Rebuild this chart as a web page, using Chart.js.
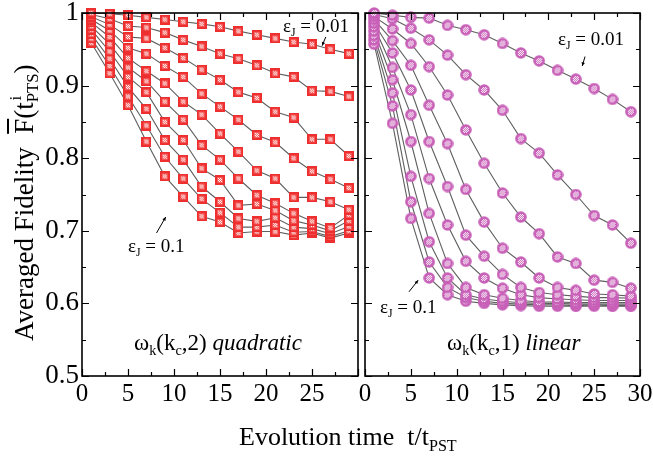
<!DOCTYPE html>
<html>
<head>
<meta charset="utf-8">
<script src="https://cdn.jsdelivr.net/npm/chart.js@4.4.0/dist/chart.umd.min.js"></script>
<style>
  body {
    margin: 0;
    width: 653px;
    height: 459px;
    overflow: hidden;
    position: relative;
    background: #fff;
    color: #000;
    font-family: "Liberation Serif", "Times New Roman", serif;
  }
  canvas { position: absolute; top: 0; }
  #quadChart { left: 0; }
  #linChart { left: 350px; }
  .txt { position: absolute; white-space: nowrap; line-height: 1; }
  .txt sub { font-size: 0.62em; vertical-align: -0.35em; line-height: 0; }
  .note { font-size: 19px; }
  .panel { font-size: 23px; }
  #xTitle { left: 239px; top: 424px; font-size: 26px; }
  #yTitle {
    left: 11px; top: 341px; font-size: 27px; line-height: 27px;
    transform: rotate(-90deg); transform-origin: 0 0;
  }
  .bar { text-decoration: overline; }
  .ss { position: relative; display: inline-block; }
  .ss .dn { font-size: 0.62em; position: relative; top: 0.3em; }
  .ss .up { font-size: 0.62em; position: absolute; left: 0.1em; top: -0.55em; }
</style>
</head>
<body>
<canvas id="quadChart" width="360" height="459"></canvas>
<canvas id="linChart" width="303" height="459"></canvas>

<div class="txt" id="yTitle">Averaged Fidelity&nbsp; <span class="bar">F</span>(t<span class="ss"><span class="up">i</span><span class="dn">PTS</span></span>)</div>
<div class="txt" id="xTitle">Evolution time&nbsp; t/t<sub>PST</sub></div>

<div class="txt note" style="left:283px; top:16px;">ε<sub>J</sub> = 0.01</div>
<div class="txt note" style="left:128px; top:236px;">ε<sub>J</sub> = 0.1</div>
<div class="txt note" style="left:558px; top:29px;">ε<sub>J</sub> = 0.01</div>
<div class="txt note" style="left:380px; top:297px;">ε<sub>J</sub> = 0.1</div>

<div class="txt panel" style="left:134px; top:331px;">ω<sub>k</sub>(k<sub>c</sub>,2) <i>quadratic</i></div>
<div class="txt panel" style="left:447px; top:331px;">ω<sub>k</sub>(k<sub>c</sub>,1) <i>linear</i></div>

<script>
// sampling times (t / t_PST) shared by every curve
const times = [1, 3, 5, 7, 9, 11, 13, 15, 17, 19, 21, 23, 25, 27, 29];
const couplings = ["0.01", "0.02", "0.03", "0.04", "0.05", "0.06", "0.07", "0.08", "0.09", "0.1"];

const xTickValues = [0, 5, 10, 15, 20, 25, 30];
const yTickValues = [0.5, 0.6, 0.7, 0.8, 0.9, 1];

// quadratic dispersion, one array per coupling
const q01 = [1.000, 0.999, 0.997, 0.994, 0.991, 0.988, 0.985, 0.981, 0.975, 0.970, 0.965, 0.960, 0.957, 0.950, 0.944];
const q02 = [0.998, 0.992, 0.982, 0.980, 0.973, 0.963, 0.954, 0.944, 0.937, 0.928, 0.917, 0.912, 0.893, 0.892, 0.885];
const q03 = [0.995, 0.984, 0.967, 0.965, 0.952, 0.938, 0.922, 0.908, 0.891, 0.883, 0.864, 0.856, 0.826, 0.826, 0.803];
const q04 = [0.991, 0.976, 0.952, 0.944, 0.927, 0.912, 0.889, 0.871, 0.853, 0.832, 0.822, 0.800, 0.782, 0.771, 0.759];
const q05 = [0.987, 0.967, 0.938, 0.920, 0.903, 0.878, 0.860, 0.834, 0.809, 0.783, 0.772, 0.746, 0.746, 0.740, 0.729];
const q06 = [0.982, 0.957, 0.925, 0.906, 0.878, 0.853, 0.818, 0.798, 0.772, 0.749, 0.738, 0.724, 0.713, 0.704, 0.722];
const q07 = [0.977, 0.947, 0.912, 0.891, 0.850, 0.825, 0.786, 0.770, 0.735, 0.737, 0.728, 0.714, 0.708, 0.700, 0.714];
const q08 = [0.971, 0.937, 0.898, 0.868, 0.825, 0.798, 0.761, 0.740, 0.717, 0.713, 0.718, 0.705, 0.703, 0.696, 0.706];
const q09 = [0.965, 0.927, 0.885, 0.845, 0.802, 0.772, 0.744, 0.725, 0.705, 0.705, 0.708, 0.698, 0.699, 0.692, 0.700];
const q10 = [0.959, 0.917, 0.873, 0.823, 0.775, 0.747, 0.720, 0.712, 0.697, 0.699, 0.699, 0.694, 0.697, 0.690, 0.697];

// linear dispersion
const l01 = [1.000, 0.997, 0.994, 0.993, 0.983, 0.977, 0.970, 0.958, 0.945, 0.934, 0.921, 0.909, 0.896, 0.881, 0.864];
const l02 = [0.998, 0.992, 0.979, 0.963, 0.942, 0.915, 0.894, 0.866, 0.827, 0.807, 0.777, 0.750, 0.721, 0.708, 0.683];
const l03 = [0.995, 0.978, 0.958, 0.926, 0.887, 0.839, 0.793, 0.752, 0.719, 0.696, 0.664, 0.655, 0.632, 0.629, 0.621];
const l04 = [0.991, 0.962, 0.928, 0.873, 0.820, 0.757, 0.712, 0.676, 0.657, 0.635, 0.622, 0.618, 0.613, 0.612, 0.610];
const l05 = [0.986, 0.945, 0.894, 0.823, 0.761, 0.694, 0.665, 0.640, 0.622, 0.615, 0.612, 0.610, 0.608, 0.608, 0.607];
const l06 = [0.981, 0.925, 0.860, 0.772, 0.708, 0.658, 0.635, 0.621, 0.612, 0.608, 0.606, 0.605, 0.604, 0.604, 0.604];
const l07 = [0.975, 0.908, 0.823, 0.724, 0.655, 0.622, 0.612, 0.607, 0.604, 0.602, 0.602, 0.601, 0.601, 0.601, 0.601];
const l08 = [0.969, 0.890, 0.775, 0.685, 0.635, 0.612, 0.606, 0.603, 0.601, 0.600, 0.600, 0.599, 0.599, 0.599, 0.599];
const l09 = [0.963, 0.872, 0.740, 0.657, 0.622, 0.608, 0.603, 0.600, 0.599, 0.598, 0.598, 0.597, 0.598, 0.597, 0.597];
const l10 = [0.957, 0.848, 0.717, 0.635, 0.612, 0.603, 0.600, 0.598, 0.597, 0.596, 0.596, 0.596, 0.596, 0.596, 0.596];

const quadSeries = [q01, q02, q03, q04, q05, q06, q07, q08, q09, q10];
const linSeries = [l01, l02, l03, l04, l05, l06, l07, l08, l09, l10];

// small arrows next to the coupling labels, in data units [t0, F0, t1, F1]
const quadArrows = [[26.5, 0.967, 26.1, 0.955], [8.1, 0.697, 9.1, 0.719]];
const linArrows = [[24.0, 0.940, 23.7, 0.927], [4.8, 0.616, 5.8, 0.632]];

const FONT = "'Liberation Serif', 'Times New Roman', serif";
Chart.defaults.font.family = FONT;
Chart.defaults.color = "#000";

// red square with a dotted cross inside
function squareMarker() {
  const c = document.createElement("canvas");
  c.width = 10;
  c.height = 10;
  const g = c.getContext("2d");
  g.fillStyle = "#ee2f2f";
  g.fillRect(0, 0, 10, 10);
  g.fillStyle = "#f65e5e";
  g.fillRect(2, 2, 6, 6);
  g.fillStyle = "#ffffff";
  for (let i = 3; i <= 6; i++) {
    for (let j = 3; j <= 6; j++) {
      if ((i + j) % 2 === 0) g.fillRect(i, j, 1, 1);
    }
  }
  return c;
}

// magenta disc with a checkered centre
function circleMarker() {
  const c = document.createElement("canvas");
  c.width = 12;
  c.height = 12;
  const g = c.getContext("2d");
  g.fillStyle = "#c860b8";
  g.beginPath();
  g.arc(6, 6, 5.8, 0, Math.PI * 2);
  g.fill();
  g.fillStyle = "#ffffff";
  for (let i = 3; i <= 8; i++) {
    for (let j = 3; j <= 8; j++) {
      const d = Math.hypot(i + 0.5 - 6, j + 0.5 - 6);
      if ((i + j) % 2 === 0 && d < 3.4) g.fillRect(i, j, 1, 1);
    }
  }
  return c;
}

function buildDatasets(series, marker) {
  let sets = [];
  series.forEach((vals, i) => {
    const pts = times.map((t, k) => ({ x: t, y: vals[k] }));
    sets.push({
      label: "line " + couplings[i],
      data: pts,
      borderColor: "#5f5f5f",
      borderWidth: 1.1,
      pointRadius: 0,
      pointHoverRadius: 0,
      order: 2,
      clip: false,
    });
    sets.push({
      label: "εJ = " + couplings[i],
      data: pts,
      showLine: false,
      pointStyle: marker,
      pointRadius: 5,
      pointHoverRadius: 5,
      order: 1,
      clip: false,
    });
  });
  return sets;
}

// frame, inward ticks on all four sides, and the label arrows
const framePlugin = {
  id: "frame",
  afterDraw(chart, args, opts) {
    const ctx = chart.ctx;
    const a = chart.chartArea;
    const x = chart.scales.x;
    const y = chart.scales.y;
    ctx.save();
    ctx.strokeStyle = "#000";
    ctx.lineWidth = 1.2;
    ctx.beginPath();
    for (let t = 0; t <= 30; t += 2.5) {
      const len = t % 5 === 0 ? 7 : 4;
      const px = Math.round(x.getPixelForValue(t)) + 0.5;
      ctx.moveTo(px, a.bottom);
      ctx.lineTo(px, a.bottom - len);
      ctx.moveTo(px, a.top);
      ctx.lineTo(px, a.top + len);
    }
    for (let k = 0; k <= 10; k++) {
      const v = 0.5 + k * 0.05;
      const len = k % 2 === 0 ? 7 : 4;
      const py = Math.round(y.getPixelForValue(v)) + 0.5;
      ctx.moveTo(a.left, py);
      ctx.lineTo(a.left + len, py);
      ctx.moveTo(a.right, py);
      ctx.lineTo(a.right - len, py);
    }
    ctx.stroke();

    ctx.lineWidth = 1.6;
    ctx.strokeRect(a.left, a.top, a.right - a.left, a.bottom - a.top);

    ctx.lineWidth = 1;
    ctx.fillStyle = "#000";
    (opts.arrows || []).forEach((ar) => {
      const x0 = x.getPixelForValue(ar[0]);
      const y0 = y.getPixelForValue(ar[1]);
      const x1 = x.getPixelForValue(ar[2]);
      const y1 = y.getPixelForValue(ar[3]);
      const ang = Math.atan2(y1 - y0, x1 - x0);
      ctx.beginPath();
      ctx.moveTo(x0, y0);
      ctx.lineTo(x1, y1);
      ctx.stroke();
      ctx.beginPath();
      ctx.moveTo(x1, y1);
      ctx.lineTo(x1 - 4 * Math.cos(ang - 0.45), y1 - 4 * Math.sin(ang - 0.45));
      ctx.lineTo(x1 - 4 * Math.cos(ang + 0.45), y1 - 4 * Math.sin(ang + 0.45));
      ctx.closePath();
      ctx.fill();
    });
    ctx.restore();
  },
};

function scaleOptions(showY, hideLastX) {
  return {
    x: {
      type: "linear",
      min: 0,
      max: 30,
      grid: { display: false, drawTicks: false },
      border: { display: false },
      afterBuildTicks: (s) => {
        s.ticks = xTickValues.map((v) => ({ value: v }));
      },
      ticks: {
        autoSkip: false,
        maxRotation: 0,
        padding: 3,
        color: "#000",
        font: { family: FONT, size: 25 },
        callback: (v) => (hideLastX && v === 30 ? "" : String(v)),
      },
      afterFit: (s) => {
        s.height = 83;
        s.paddingLeft = 0;
        s.paddingRight = 0;
      },
    },
    y: {
      type: "linear",
      min: 0.5,
      max: 1,
      display: showY,
      grid: { display: false, drawTicks: false },
      border: { display: false },
      afterBuildTicks: (s) => {
        s.ticks = yTickValues.map((v) => ({ value: v }));
      },
      ticks: {
        padding: 3,
        color: "#000",
        font: { family: FONT, size: 27 },
        callback: (v) => (Math.abs(v - 1) < 1e-9 ? "1" : v.toFixed(1)),
      },
      afterFit: (s) => {
        s.width = showY ? 82 : 0;
        s.paddingTop = 0;
        s.paddingBottom = 0;
      },
    },
  };
}

function initChart(canvasId, series, marker, showY, padding, arrows) {
  return new Chart(document.getElementById(canvasId), {
    type: "line",
    data: { datasets: buildDatasets(series, marker) },
    plugins: [framePlugin],
    options: {
      responsive: false,
      animation: false,
      devicePixelRatio: 1,
      layout: { padding: padding, autoPadding: false },
      scales: scaleOptions(showY, showY),
      plugins: {
        legend: { display: false },
        tooltip: { enabled: false },
        frame: { arrows: arrows },
      },
    },
  });
}

let quadChart;
let linChart;

function drawCharts() {
  quadChart = initChart("quadChart", quadSeries, squareMarker(), true,
    { left: 0, top: 13, right: 2, bottom: 0 }, quadArrows);
  linChart = initChart("linChart", linSeries, circleMarker(), false,
    { left: 15, top: 13, right: 13, bottom: 0 }, linArrows);
}

document.fonts.load("25px 'Liberation Serif'").then(drawCharts, drawCharts);
</script>
</body>
</html>
